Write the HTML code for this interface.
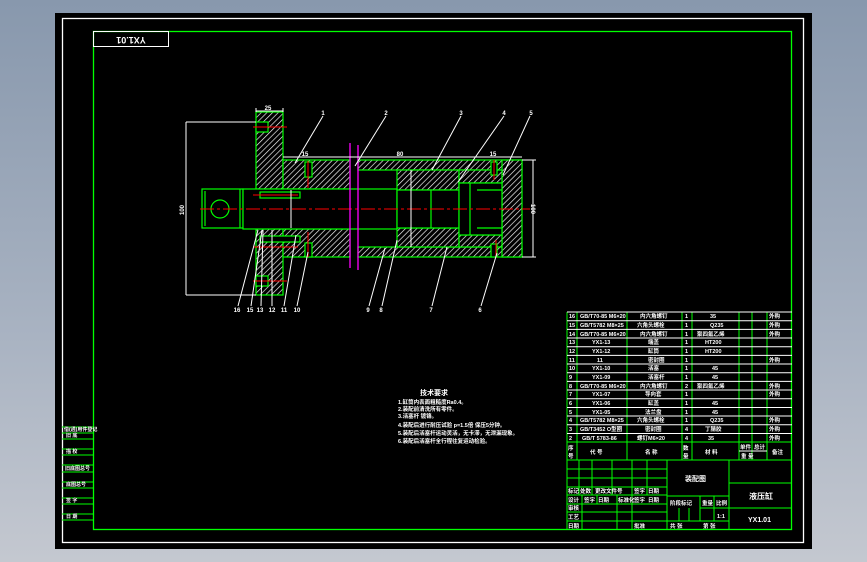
<!DOCTYPE html>
<html><head><meta charset="utf-8"><style>
html,body{margin:0;padding:0;width:867px;height:562px;overflow:hidden;background:linear-gradient(#8898ad,#a9b3c2 60%,#c4c8d0);}
svg{display:block}
text{font-family:"Liberation Sans","Noto Sans CJK SC",sans-serif;fill:#fff;font-weight:bold}
</style></head><body>
<svg width="867" height="562" viewBox="0 0 867 562" xmlns="http://www.w3.org/2000/svg">
<defs>
<pattern id="h" width="4" height="4" patternUnits="userSpaceOnUse" patternTransform="rotate(45)">
<rect width="4" height="4" fill="#000"/><line x1="0" y1="0" x2="0" y2="4" stroke="#fff" stroke-width="1.3"/>
</pattern>
</defs>
<rect x="55" y="13" width="757" height="536" fill="#000"/>
<rect x="62.5" y="18.5" width="741" height="524" fill="none" stroke="#fff" stroke-width="1.3"/>
<rect x="93.5" y="31.5" width="698" height="498" fill="none" stroke="#0f0" stroke-width="1.3"/>
<rect x="93.5" y="31.5" width="75" height="15" fill="none" stroke="#fff" stroke-width="1"/>
<text x="131" y="43" font-size="9" text-anchor="middle" transform="rotate(180 131 40)">YX1.01</text>

<!-- left stamp block -->
<g stroke="#0f0" stroke-width="1">
<line x1="62" y1="427" x2="93" y2="427"/><line x1="62" y1="433" x2="93" y2="433"/><line x1="62" y1="439" x2="93" y2="439"/>
<line x1="62" y1="449" x2="93" y2="449"/><line x1="62" y1="455" x2="93" y2="455"/><line x1="62" y1="465" x2="93" y2="465"/>
<line x1="62" y1="472" x2="93" y2="472"/><line x1="62" y1="482" x2="93" y2="482"/><line x1="62" y1="488" x2="93" y2="488"/>
<line x1="62" y1="498" x2="93" y2="498"/><line x1="62" y1="504" x2="93" y2="504"/><line x1="62" y1="514" x2="93" y2="514"/><line x1="62" y1="520" x2="93" y2="520"/>
</g>
<g font-size="5">
<text x="64" y="431">借(通)用件登记</text><text x="66" y="437">旧 底</text><text x="66" y="453">描 校</text><text x="65" y="470">旧底图总号</text><text x="66" y="486">底图总号</text><text x="66" y="502">签 字</text><text x="66" y="518">日 期</text>
</g>

<!-- drawing -->
<g stroke="#0f0" stroke-width="1.2">
<rect x="256" y="112" width="27" height="77" fill="url(#h)"/>
<rect x="256" y="229" width="27" height="66" fill="url(#h)"/>
<rect x="283" y="160" width="67" height="29" fill="url(#h)"/>
<rect x="283" y="229" width="67" height="28" fill="url(#h)"/>
<rect x="358" y="160" width="164" height="10" fill="url(#h)"/>
<rect x="358" y="247" width="164" height="10" fill="url(#h)"/>
<rect x="397" y="170" width="62" height="20" fill="url(#h)"/>
<rect x="397" y="228" width="62" height="19" fill="url(#h)"/>
<rect x="502" y="160" width="20" height="97" fill="url(#h)"/>
<rect x="459" y="170" width="43" height="13" fill="url(#h)"/>
<rect x="459" y="235" width="43" height="12" fill="url(#h)"/>
<rect x="202" y="189" width="41" height="39" fill="#000"/>
<rect x="243" y="189" width="154" height="40" fill="#000"/>
<rect x="397" y="190" width="62" height="38" fill="#000"/>
<rect x="459" y="183" width="43" height="52" fill="#000"/>
<line x1="205" y1="191" x2="205" y2="226"/><line x1="240" y1="189" x2="240" y2="228"/>
<line x1="431" y1="190" x2="431" y2="228"/><line x1="470" y1="183" x2="470" y2="235"/><line x1="477" y1="190" x2="502" y2="190"/><line x1="477" y1="228" x2="502" y2="228"/>
<rect x="260" y="192" width="40" height="6" fill="#000"/><rect x="260" y="236" width="40" height="6" fill="#000"/>
<rect x="256" y="122" width="12" height="10" fill="#000"/><rect x="256" y="276" width="12" height="10" fill="#000"/>
<rect x="305" y="162" width="7" height="15" fill="#000"/><rect x="305" y="243" width="7" height="14" fill="#000"/>
<rect x="491" y="162" width="6" height="13" fill="#000"/><rect x="491" y="244" width="6" height="13" fill="#000"/>
<circle cx="220" cy="209" r="9" fill="none"/>
</g>
<g stroke="#f00" stroke-width="1">
<line x1="200" y1="209" x2="530" y2="209" stroke-dasharray="14,3,3,3"/>
<line x1="253" y1="127" x2="287" y2="127"/><line x1="253" y1="281" x2="287" y2="281"/>
<line x1="253" y1="195" x2="298" y2="195"/><line x1="253" y1="247" x2="298" y2="247"/>
<line x1="308" y1="161" x2="308" y2="188"/><line x1="308" y1="232" x2="308" y2="257"/>
<line x1="494" y1="160" x2="494" y2="180"/><line x1="496" y1="240" x2="496" y2="258"/>
</g>
<g stroke="#f0f" stroke-width="1.3">
<line x1="350" y1="143" x2="350" y2="268"/><line x1="358" y1="145" x2="358" y2="270"/>
</g>
<!-- dims and leaders -->
<g stroke="#fff" stroke-width="1" fill="none">
<line x1="256" y1="111" x2="283" y2="111"/><line x1="256" y1="108" x2="256" y2="112"/><line x1="283" y1="108" x2="283" y2="112"/>
<line x1="186" y1="122" x2="186" y2="295"/><line x1="186" y1="122" x2="256" y2="122"/><line x1="186" y1="295" x2="256" y2="295"/>
<line x1="283" y1="157" x2="522" y2="157"/>
<line x1="522" y1="160" x2="536" y2="160"/><line x1="522" y1="257" x2="536" y2="257"/><line x1="533" y1="160" x2="533" y2="257"/>
<line x1="411" y1="170" x2="411" y2="247"/><line x1="291" y1="190" x2="291" y2="228"/>
<line x1="323" y1="116" x2="295" y2="163"/>
<line x1="386" y1="116" x2="355" y2="166"/>
<line x1="461" y1="116" x2="432" y2="170"/>
<line x1="504" y1="116" x2="458" y2="182"/>
<line x1="530" y1="116" x2="503" y2="175"/>
<line x1="238" y1="306" x2="258" y2="230"/><line x1="251" y1="306" x2="262" y2="230"/><line x1="261" y1="306" x2="263" y2="230"/><line x1="272" y1="306" x2="272" y2="230"/>
<line x1="284" y1="306" x2="296" y2="235"/><line x1="297" y1="306" x2="308" y2="252"/>
<line x1="369" y1="306" x2="385" y2="248"/><line x1="382" y1="306" x2="397" y2="240"/><line x1="432" y1="306" x2="447" y2="247"/><line x1="481" y1="306" x2="497" y2="253"/>
</g>
<g font-size="6" text-anchor="middle">
<text x="268" y="110">25</text><text x="305" y="156">15</text><text x="400" y="156">80</text><text x="493" y="156">15</text>
<text x="184" y="210" transform="rotate(-90 184 210)">100</text><text x="531" y="209" transform="rotate(90 531 209)">100</text>
<text x="323" y="115">1</text><text x="386" y="115">2</text><text x="461" y="115">3</text><text x="504" y="115">4</text><text x="531" y="115">5</text>
<text x="237" y="312">16</text><text x="250" y="312">15</text><text x="260" y="312">13</text><text x="272" y="312">12</text><text x="284" y="312">11</text><text x="297" y="312">10</text>
<text x="368" y="312">9</text><text x="381" y="312">8</text><text x="431" y="312">7</text><text x="480" y="312">6</text>
</g>

<!-- notes -->
<g font-size="5.5">
<text x="420" y="395" font-size="7">技术要求</text>
<text x="398" y="404">1.缸筒内表面粗糙度Ra0.4。</text>
<text x="398" y="411">2.装配前清洗所有零件。</text>
<text x="398" y="418">3.活塞杆 镀铬。</text>
<text x="398" y="427">4.装配后进行耐压试验 p=1.5倍 保压5分钟。</text>
<text x="398" y="435">5.装配后活塞杆运动灵活，无卡滞，无泄漏现象。</text>
<text x="398" y="443">6.装配后活塞杆全行程往复运动检验。</text>
</g>

<!-- parts table -->
<g stroke="#0f0" stroke-width="1">
<line x1="567" y1="312" x2="567" y2="530"/><line x1="577" y1="312" x2="577" y2="460"/><line x1="627" y1="312" x2="627" y2="460"/>
<line x1="682" y1="312" x2="682" y2="460"/><line x1="692" y1="312" x2="692" y2="460"/><line x1="739" y1="312" x2="739" y2="460"/>
<line x1="752" y1="312" x2="752" y2="460"/><line x1="767" y1="312" x2="767" y2="460"/>
<line x1="567" y1="442" x2="792" y2="442"/><line x1="567" y1="460" x2="792" y2="460"/>
</g>
<g stroke="#fff" stroke-width="1">
<line x1="567" y1="312" x2="792" y2="312"/><line x1="567" y1="320.7" x2="792" y2="320.7"/><line x1="567" y1="329.4" x2="792" y2="329.4"/>
<line x1="567" y1="338" x2="792" y2="338"/><line x1="567" y1="346.7" x2="792" y2="346.7"/><line x1="567" y1="355.4" x2="792" y2="355.4"/>
<line x1="567" y1="364" x2="792" y2="364"/><line x1="567" y1="372.8" x2="792" y2="372.8"/><line x1="567" y1="381.4" x2="792" y2="381.4"/>
<line x1="567" y1="390" x2="792" y2="390"/><line x1="567" y1="398.8" x2="792" y2="398.8"/><line x1="567" y1="407.5" x2="792" y2="407.5"/>
<line x1="567" y1="416" x2="792" y2="416"/><line x1="567" y1="424.8" x2="792" y2="424.8"/><line x1="567" y1="433.5" x2="792" y2="433.5"/>
</g>
<g font-size="5.5">
<text x="569" y="318">16</text><text x="580" y="318">GB/T70-85 M6×20</text><text x="640" y="318">内六角螺钉</text><text x="685" y="318">1</text><text x="710" y="318">35</text><text x="769" y="318">外购</text>
<text x="569" y="327">15</text><text x="580" y="327">GB/T5782 M8×25</text><text x="637" y="327">六角头螺栓</text><text x="685" y="327">1</text><text x="710" y="327">Q235</text><text x="769" y="327">外购</text>
<text x="569" y="336">14</text><text x="580" y="336">GB/T70-85 M6×20</text><text x="640" y="336">内六角螺钉</text><text x="685" y="336">1</text><text x="697" y="336">聚四氟乙烯</text><text x="769" y="336">外购</text>
<text x="569" y="344">13</text><text x="592" y="344">YX1-13</text><text x="648" y="344">端盖</text><text x="685" y="344">1</text><text x="705" y="344">HT200</text>
<text x="569" y="353">12</text><text x="592" y="353">YX1-12</text><text x="648" y="353">缸筒</text><text x="685" y="353">1</text><text x="705" y="353">HT200</text>
<text x="569" y="362">11</text><text x="597" y="362">11</text><text x="648" y="362">密封圈</text><text x="685" y="362">1</text><text x="769" y="362">外购</text>
<text x="569" y="370">10</text><text x="592" y="370">YX1-10</text><text x="648" y="370">活塞</text><text x="685" y="370">1</text><text x="712" y="370">45</text>
<text x="569" y="379">9</text><text x="592" y="379">YX1-09</text><text x="648" y="379">活塞杆</text><text x="685" y="379">1</text><text x="712" y="379">45</text>
<text x="569" y="388">8</text><text x="580" y="388">GB/T70-85 M6×20</text><text x="640" y="388">内六角螺钉</text><text x="685" y="388">2</text><text x="697" y="388">聚四氟乙烯</text><text x="769" y="388">外购</text>
<text x="569" y="396">7</text><text x="592" y="396">YX1-07</text><text x="645" y="396">导向套</text><text x="685" y="396">1</text><text x="769" y="396">外购</text>
<text x="569" y="405">6</text><text x="592" y="405">YX1-06</text><text x="648" y="405">缸盖</text><text x="685" y="405">1</text><text x="712" y="405">45</text>
<text x="569" y="414">5</text><text x="592" y="414">YX1-05</text><text x="645" y="414">法兰盘</text><text x="685" y="414">1</text><text x="712" y="414">45</text>
<text x="569" y="422">4</text><text x="580" y="422">GB/T5782 M8×25</text><text x="637" y="422">六角头螺栓</text><text x="685" y="422">1</text><text x="710" y="422">Q235</text><text x="769" y="422">外购</text>
<text x="569" y="431">3</text><text x="580" y="431">GB/T3452 O型圈</text><text x="645" y="431">密封圈</text><text x="685" y="431">4</text><text x="705" y="431">丁腈胶</text><text x="769" y="431">外购</text>
<text x="569" y="440">2</text><text x="582" y="440">GB/T 5783-86</text><text x="637" y="440">螺钉M6×20</text><text x="685" y="440">4</text><text x="708" y="440">35</text><text x="769" y="440">外购</text>
<text x="568" y="450">序</text><text x="568" y="458">号</text><text x="590" y="454">代 号</text><text x="645" y="454">名 称</text><text x="683" y="450">数</text><text x="683" y="458">量</text><text x="705" y="454">材 料</text><text x="740" y="449">单件</text><text x="754" y="449">总计</text><text x="741" y="458">重 量</text><text x="772" y="454">备注</text>
</g>
<line x1="739" y1="451" x2="767" y2="451" stroke="#fff" stroke-width="1"/>

<!-- title block -->
<g stroke="#0f0" stroke-width="1">
<line x1="567" y1="469" x2="667" y2="469"/><line x1="567" y1="478" x2="667" y2="478"/><line x1="567" y1="487" x2="667" y2="487"/>
<line x1="567" y1="495" x2="667" y2="495"/><line x1="567" y1="504" x2="667" y2="504"/><line x1="567" y1="512" x2="667" y2="512"/><line x1="567" y1="521" x2="667" y2="521"/>
<line x1="579" y1="460" x2="579" y2="495"/><line x1="592" y1="460" x2="592" y2="495"/><line x1="612" y1="460" x2="612" y2="495"/><line x1="632" y1="460" x2="632" y2="495"/><line x1="647" y1="460" x2="647" y2="495"/>
<line x1="582" y1="495" x2="582" y2="530"/><line x1="597" y1="495" x2="597" y2="504"/><line x1="617" y1="495" x2="617" y2="530"/><line x1="632" y1="495" x2="632" y2="530"/>
<line x1="667" y1="460" x2="667" y2="530"/><line x1="729" y1="460" x2="729" y2="530"/>
<line x1="729" y1="483" x2="792" y2="483"/><line x1="729" y1="508" x2="792" y2="508"/>
<line x1="667" y1="496" x2="729" y2="496"/><line x1="667" y1="521" x2="729" y2="521"/>
<line x1="700" y1="496" x2="700" y2="521"/><line x1="714" y1="496" x2="714" y2="521"/><line x1="679" y1="508" x2="679" y2="521"/><line x1="689" y1="508" x2="689" y2="521"/>
<line x1="700" y1="508" x2="729" y2="508"/>
</g>
<g font-size="5.5">
<text x="568" y="493">标记</text><text x="580" y="493">处数</text><text x="595" y="493">更改文件号</text><text x="634" y="493">签字</text><text x="648" y="493">日期</text>
<text x="568" y="502">设计</text><text x="584" y="502">签字</text><text x="598" y="502">日期</text><text x="618" y="502">标准化</text><text x="634" y="502">签字</text><text x="648" y="502">日期</text>
<text x="568" y="510">审核</text><text x="568" y="519">工艺</text><text x="568" y="528">日期</text><text x="634" y="528">批准</text>
<text x="685" y="481" font-size="7">装配图</text><text x="749" y="499" font-size="8">液压缸</text><text x="748" y="522" font-size="7">YX1.01</text>
<text x="670" y="505">阶段标记</text><text x="702" y="505">重量</text><text x="716" y="505">比例</text><text x="717" y="518">1:1</text>
<text x="670" y="528">共 张</text><text x="703" y="528">第 张</text>
</g>
</svg>
</body></html>
